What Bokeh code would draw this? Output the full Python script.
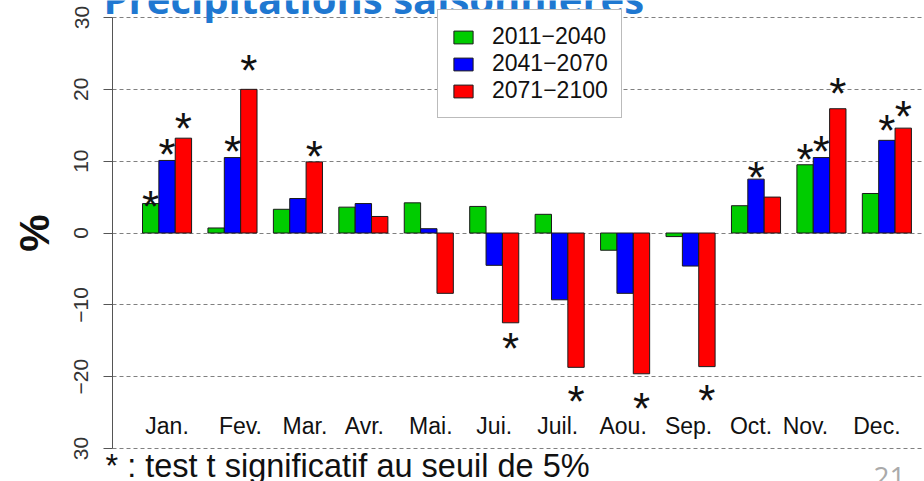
from bokeh.plotting import figure
from bokeh.models import Range1d, FixedTicker, Label, Legend, LegendItem, ColumnDataSource
from bokeh.core.properties import value
from bokeh.embed import file_html
from bokeh.resources import INLINE

# ---- data ----
months = ["Jan.", "Fev.", "Mar.", "Avr.", "Mai.", "Jui.", "Juil.", "Aou.",
          "Sep.", "Oct.", "Nov.", "Dec."]
periods = ["2011\u22122040", "2041\u22122070", "2071\u22122100"]
p2011 = [4.1, 0.7, 3.3, 3.6, 4.2, 3.7, 2.6, -2.4, -0.5, 3.8, 9.5, 5.5]
p2041 = [10.1, 10.5, 4.8, 4.1, 0.6, -4.5, -9.3, -8.4, -4.6, 7.5, 10.5, 12.9]
p2071 = [13.2, 20.0, 9.9, 2.3, -8.4, -12.5, -18.7, -19.6, -18.6, 5.0, 17.3, 14.6]
sig2011 = [1, 0, 0, 0, 0, 0, 0, 0, 0, 0, 1, 0]
sig2041 = [1, 1, 0, 0, 0, 0, 0, 0, 0, 1, 1, 1]
sig2071 = [1, 1, 1, 0, 0, 1, 1, 1, 1, 0, 1, 1]
yticks = [-30, -20, -10, 0, 10, 20, 30]
ytick_labels = ["30", "\u221220", "\u221210", "0", "10", "20", "30"]
colors = ["#00cc00", "#0000ff", "#ff0000"]

title_text = "Pr\u00e9cipitations saisonni\u00e8res"
footnote = "* : test t significatif au seuil de 5%"
page_no = "21"

# ---- style / layout constants ----
FONT = "Liberation Sans"
STAR_SCALE = 1.19
STAR_SHIFT = -0.3
LABEL_Y = -26.8
LABEL_NUDGE_PX = [0, 8, 7, 1, 2, 0, -2, -2, -2, -5, -16, -10]
X_START, X_END = -7.680, 48.80      # frame spans the whole canvas
AXIS_X = -0.834                     # where the y axis is drawn
Y_START, Y_END = -34.594, 32.367
Y_LO, Y_HI = -30, 30

p = figure(width=924, height=481,
           x_range=Range1d(X_START, X_END), y_range=Range1d(Y_START, Y_END),
           output_backend="svg", toolbar_location=None,
           min_border_left=0, min_border_right=0,
           min_border_top=0, min_border_bottom=0)
p.outline_line_color = None
p.background_fill_color = "white"
p.border_fill_color = "white"

series = [p2011, p2041, p2071]
sigs = [sig2011, sig2041, sig2071]
renderers = []
for k, (vals, sig, col) in enumerate(zip(series, sigs, colors)):
    xs = [4 * i + 1.5 + k for i in range(len(months))]
    src = ColumnDataSource(dict(x=xs, top=vals))
    r = p.vbar(x="x", top="top", bottom=0, width=1, source=src,
               fill_color=col, line_color="#1a1a1a", line_width=1)
    renderers.append(r)
    sx = [x for x, s in zip(xs, sig) if s]
    sy = [STAR_SCALE * v + STAR_SHIFT for v, s in zip(vals, sig) if s]
    p.text(x=sx, y=sy, text=["*"] * len(sx), text_font=value(FONT),
           text_font_size=value("44px"), text_align="center",
           text_baseline="middle", y_offset=6, text_color="#111111")

# month labels inside plot
cx = [4 * i + 2.5 for i in range(len(months))]
lab_src = ColumnDataSource(dict(x=cx, y=[LABEL_Y] * len(cx), text=months,
                                dx=LABEL_NUDGE_PX))
p.text(x="x", y="y", text="text", x_offset="dx", source=lab_src, text_font=value(FONT),
       text_font_size=value("23px"), text_align="center", text_baseline="middle",
       text_color="#111111")

# axes
p.xaxis.visible = False
p.xgrid.visible = False
yax = p.yaxis[0]
yax.fixed_location = AXIS_X
yax.bounds = (Y_LO, Y_HI)
yax.ticker = FixedTicker(ticks=yticks)
yax.major_label_overrides = {t: l for t, l in zip(yticks, ytick_labels)}
yax.major_label_orientation = "vertical"
yax.major_label_text_font = FONT
yax.major_label_text_font_size = "21px"
yax.major_label_text_color = "#333333"
yax.major_label_standoff = 15
yax.axis_line_color = "#555555"
yax.major_tick_line_color = "#555555"
yax.major_tick_out = 9
yax.major_tick_in = 0
yax.minor_tick_line_color = None
yax.axis_label = "%"
yax.axis_label_text_font = FONT
yax.axis_label_text_font_style = "bold"
yax.axis_label_text_font_size = "42px"
yax.axis_label_text_color = "#111111"
yax.axis_label_standoff = 14

p.ygrid.ticker = FixedTicker(ticks=yticks)
p.ygrid.cross_bounds = (AXIS_X, X_END)
p.ygrid.grid_line_color = "#808080"
p.ygrid.grid_line_dash = "4 3"
p.ygrid.grid_line_width = 1

legend = Legend(items=[LegendItem(label=n, renderers=[r]) for n, r in zip(periods, renderers)],
                location=(437, 363), padding=13, spacing=0,
                glyph_width=24, glyph_height=16, label_standoff=17, label_height=24,
                label_text_font=FONT, label_text_font_size="23px",
                label_text_color="#111111",
                border_line_color="#777777", border_line_width=1.2,
                background_fill_color="white", background_fill_alpha=1.0,
                margin=0)
p.add_layout(legend)

# texts placed in data units (vertical middle of text)
p.add_layout(Label(x=AXIS_X - 0.55, y=32.7, text=title_text,
                   text_font="Open Sans", text_font_size="40px", text_font_style="bold",
                   text_color="#1f78d1", text_baseline="middle"))
p.add_layout(Label(x=AXIS_X - 0.43, y=-32.37, text=footnote,
                   text_font=FONT, text_font_size="32.5px", text_color="#111111",
                   text_baseline="middle"))
p.add_layout(Label(x=45.68, y=-33.9, text=page_no,
                   text_font="Open Sans", text_font_size="28px", text_color="#aaaaaa",
                   text_baseline="middle"))

open("out.html", "w").write(file_html(p, INLINE))
